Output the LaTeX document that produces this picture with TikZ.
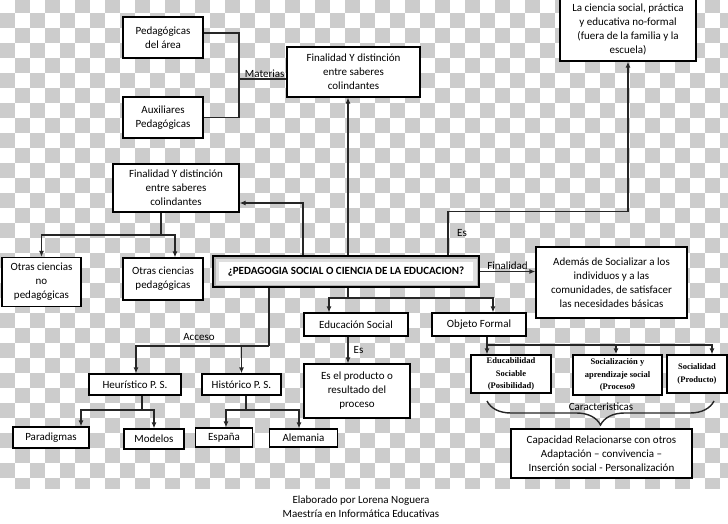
\documentclass[tikz,border=0pt]{standalone}
\usepackage{fontspec}
\setmainfont{Carlito}
\newfontfamily\smallserif{Liberation Serif}
\usetikzlibrary{arrows.meta, decorations.pathreplacing}

\definecolor{checkgray}{RGB}{204,204,204}

\tikzset{
	wh/.style 2 args = {minimum width = #1pt, minimum height = #2pt},
	box/.style = {draw, line width = 1.2pt, fill = white, align = center, inner sep = 1pt,
		font = \fontsize{11}{14}\selectfont},
	smallbox/.style = {box, font = \smallserif\bfseries\fontsize{8.5}{12.5}\selectfont},
	mainbox/.style = {box, line width = 1.3pt, font = \bfseries\fontsize{11}{14}\selectfont,
		path picture = {
			\draw[gray!25, line width = 12pt] (path picture bounding box.south west) rectangle (path picture bounding box.north east);
			\draw[gray!60, line width = 5pt] (path picture bounding box.south west) rectangle (path picture bounding box.north east);
		}},
	link/.style = {line width = 1.4pt, draw = black!85},
	lbl/.style = {inner sep = 1pt, font = \fontsize{11}{14}\selectfont},
}

\begin{document}
\begin{tikzpicture}[x = 1pt, y = -1pt]
	\useasboundingbox (0,0) rectangle (728,523);
	\fill[white] (0,0) rectangle (728,523);

	% checker background
	\begin{scope}
		\clip (0,0) rectangle (728,488);
		\foreach \col in {0,...,48}
			\foreach \row in {0,...,33} {
				\pgfmathparse{int(mod(\col+\row,2))}
				\ifnum\pgfmathresult=1
					\fill[checkgray] (\col*15,\row*15-2) rectangle ++(15,15);
				\fi
			}
	\end{scope}

	% boxes
	\node[box, wh = {80}{41}] (pedarea) at (163,37.5) {Pedagógicas\\del área};
	\node[box, wh = {80}{41}] (auxped) at (163,117.5) {Auxiliares\\Pedagógicas};
	\node[box, wh = {133}{50}] (fintop) at (353.5,72) {Finalidad Y distinción\\entre saberes\\colindantes};
	\node[box, wh = {126}{48}] (finleft) at (176,188) {Finalidad Y distinción\\entre saberes\\colindantes};
	\node[box, wh = {79}{49}] (otrasno) at (41.5,282) {Otras ciencias\\no\\pedagógicas};
	\node[box, wh = {80}{42}] (otrasped) at (163,279) {Otras ciencias\\pedagógicas};
	\node[box, wh = {136}{63}] (ciencia) at (628,29.5) {La ciencia social, práctica\\y educativa no-formal\\(fuera de la familia y la\\escuela)};
	\node[mainbox, wh = {266}{31}] (main) at (346,271.5) {¿PEDAGOGIA SOCIAL O CIENCIA DE LA EDUCACION?};
	\node[box, wh = {151}{71}] (ademas) at (611.5,282.5) {Además de Socializar a los\\individuos y a las\\comunidades, de satisfacer\\las necesidades básicas};
	\node[box, wh = {104}{23}] (edusoc) at (356,324.5) {Educación Social};
	\node[box, wh = {94}{23}] (objform) at (479,324.5) {Objeto Formal};
	\node[box, wh = {106}{54}] (esprod) at (357,391) {Es el producto o\\resultado del\\proceso};
	\node[smallbox, wh = {80}{38}] (educ) at (511,374) {Educabilidad\\Sociable\\(Posibilidad)};
	\node[smallbox, wh = {89}{40}] (sociali) at (617.5,375) {Socialización y\\aprendizaje social\\(Proceso9};
	\node[smallbox, wh = {60}{38}] (socialid) at (697,374) {Socialidad\\(Producto)};
	\node[box, wh = {181}{49}] (capacidad) at (601.5,453.5) {Capacidad Relacionarse con otros\\Adaptación -- convivencia --\\Inserción social - Personalización};
	\node[box, wh = {92}{21}] (heur) at (135,384.5) {Heurístico P. S.};
	\node[box, wh = {79}{21}] (hist) at (241.5,384.5) {Histórico P. S.};
	\node[box, wh = {76}{21}] (parad) at (51,437.5) {Paradigmas};
	\node[box, wh = {60}{20}] (modelos) at (154,439) {Modelos};
	\node[box, wh = {57}{19}] (espana) at (224,437.5) {España};
	\node[box, wh = {68}{18}] (alemania) at (303.5,438) {Alemania};

	\node[lbl, align = center] (credito) at (361,506.5) {Elaborado por Lorena Noguera\\Maestría en Informática Educativas};

	% split points
	\coordinate (matjoin) at (239,79);
	\coordinate (finsplit) at (161,235);
	\coordinate (esbend) at (448,211.5);
	\coordinate (mainsplit) at (348,298);
	\coordinate (objsplit) at (487,345);
	\coordinate (accsplit) at (269,346);
	\coordinate (heursplit) at (142,410);
	\coordinate (histsplit) at (246,410);

	\draw[link] ([yshift = 4.5pt]pedarea.east) -| (matjoin) |- (auxped.east);
	\draw[link] (matjoin) -- (matjoin -| fintop.west) node [midway, above, lbl, xshift = 2pt] {Materias};
	\draw[link] ([xshift = -15pt]finleft.south) -- (finsplit);
	\draw[link] ([xshift = 2pt]main.south) -- (mainsplit);
	\draw[link] ([xshift = 8pt]objform.south) -- (objsplit);
	\draw[link] (main.south -| accsplit) -- (accsplit);
	\draw[link] ([xshift = 7pt]heur.south) -- (heursplit);
	\draw[link] ([xshift = 4.5pt]hist.south) -- (histsplit);

	\begin{scope}[-{Latex[length = 6pt, width = 5pt]}]
		\draw[link] ([xshift = 2pt]main.north) -- ([xshift = 2pt]main.north |- fintop.south);
		\draw[link] ([xshift = -43pt]main.north) |- ([yshift = -15pt]finleft.east);
		\draw[link] (finsplit) -| (otrasno.north);
		\draw[link] (finsplit) -| ([xshift = 12pt]otrasped.north);
		\draw[link] (main.north -| esbend) -- (esbend) -| (ciencia.south);
		\draw[link] (main.east) -- (main.east -| ademas.west) node [midway, above, lbl] {Finalidad};
		\draw[link] (mainsplit) -| ([xshift = -27pt]edusoc.north);
		\draw[link] (mainsplit) -| ([xshift = 14pt]objform.north);
		\draw[link] ([xshift = -8pt]edusoc.south) -- ([xshift = -8pt]edusoc.south |- esprod.north) node [midway, right = 4pt, lbl] {Es};
		\draw[link] (objsplit) -| ([xshift = -24pt]educ.north);
		\draw[link] (objsplit) -| ([xshift = -1.5pt]sociali.north);
		\draw[link] (objsplit) -| ([xshift = 15pt]socialid.north);
		\draw[link] (accsplit) -| ([xshift = 1pt]heur.north);
		\draw[link] (accsplit) -| (hist.north);
		\draw[link] (heursplit) -| ([xshift = 30pt]parad.north);
		\draw[link] (heursplit) -| (modelos.north);
		\draw[link] (histsplit) -| ([xshift = 2pt]espana.north);
		\draw[link] (histsplit) -| ([xshift = -4.5pt]alemania.north);
	\end{scope}

	\node[lbl] (eslabel) at (462,233) {Es};
	\node[lbl] (acceso) at (199,337) {Acceso};

	\draw[link, decorate, decoration = {brace, mirror, amplitude = 24pt}] (487,401) -- (714,401);
	\node[lbl] (caract) at (601,407) {Caracteristicas};
\end{tikzpicture}
\end{document}
